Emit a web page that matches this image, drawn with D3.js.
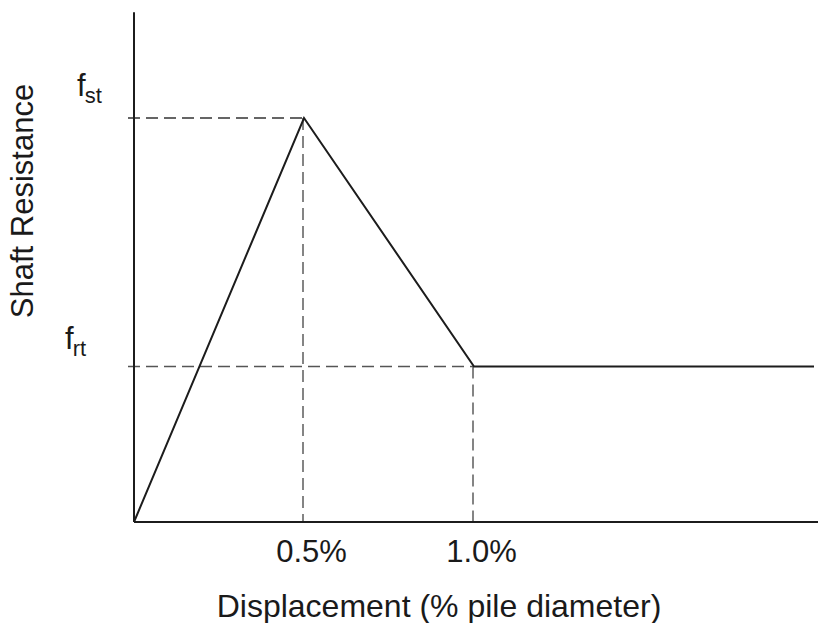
<!DOCTYPE html>
<html>
<head>
<meta charset="utf-8">
<script src="https://cdn.jsdelivr.net/npm/d3@7/dist/d3.min.js"></script>
<style>
  html, body { margin: 0; padding: 0; background: #fff; }
  svg { display: block; }
  text { font-family: Arial, 'Liberation Sans', sans-serif; fill: #1a1a1a; }
</style>
</head>
<body>
<svg id="chart" width="818" height="623"></svg>
<script>
  /* ---- Data (displacement in % pile diameter, resistance normalised to f_st) ---- */
  const displacement = [0, 0.5, 1.0, 2.0];
  const resistance = [0, 1.0, 0.385, 0.385];
  const xTickValues = [0.5, 1.0];
  const xTickLabels = ['0.5%', '1.0%'];
  const levelNames = ['st', 'rt'];
  const levelValues = [1.0, 0.385];
  const levelX = [0.5, 1.0];

  const svg = d3.select('#chart');

  const x = d3.scaleLinear().domain([0, 2.0]).range([134, 814]);
  const y = d3.scaleLinear().domain([0, 1.0]).range([522, 118]);
  const yTop = 1.262;

  const ink = '#1c1c1c';

  // Dashed guide lines: horizontal from axis to point, vertical from point to axis
  levelValues.forEach((v, i) => {
    svg.append('line')
      .attr('x1', x(0) - 6).attr('x2', x(levelX[i]))
      .attr('y1', y(v)).attr('y2', y(v))
      .attr('stroke', i === 0 ? '#333' : '#555')
      .attr('stroke-width', 1.6)
      .attr('stroke-dasharray', '12,6');
    svg.append('line')
      .attr('x1', x(levelX[i]) - 1).attr('x2', x(levelX[i]) - 1)
      .attr('y1', y(v)).attr('y2', y(0))
      .attr('stroke', '#666')
      .attr('stroke-width', 1.6)
      .attr('stroke-dasharray', '12,6');
  });

  // Axes lines
  svg.append('line')
    .attr('x1', x(0)).attr('x2', x(0))
    .attr('y1', y(yTop)).attr('y2', y(0))
    .attr('stroke', ink).attr('stroke-width', 2);
  svg.append('line')
    .attr('x1', x(0)).attr('x2', 818)
    .attr('y1', y(0)).attr('y2', y(0))
    .attr('stroke', ink).attr('stroke-width', 2);

  // Resistance curve
  const pts = displacement.map((d, i) => [d, resistance[i]]);
  svg.append('path')
    .datum(pts)
    .attr('fill', 'none')
    .attr('stroke', ink)
    .attr('stroke-width', 2)
    .attr('stroke-linejoin', 'miter')
    .attr('d', d3.line().x(d => x(d[0])).y(d => y(d[1])));

  // X tick labels
  const xAxis = d3.axisBottom(x)
    .tickValues(xTickValues)
    .tickSize(0)
    .tickPadding(0)
    .tickFormat((d, i) => xTickLabels[i]);
  const gx = svg.append('g').attr('transform', `translate(0,${y(0)})`).call(xAxis);
  gx.select('.domain').remove();
  gx.selectAll('text')
    .attr('font-size', 31)
    .attr('font-family', "Arial, 'Liberation Sans', sans-serif")
    .attr('fill', '#1a1a1a')
    .attr('dy', null)
    .attr('y', 40)
    .attr('x', 7);

  // Level labels f_st, f_rt
  const labelPos = [[77, 96], [65, 349]];
  levelNames.forEach((n, i) => {
    const t = svg.append('text')
      .attr('x', labelPos[i][0])
      .attr('y', labelPos[i][1])
      .attr('font-size', 31);
    t.append('tspan').text('f');
    t.append('tspan').attr('font-size', 22).attr('dy', 7).attr('dx', -1).text(n);
  });

  // Axis titles
  svg.append('text')
    .attr('x', 439)
    .attr('y', 617)
    .attr('text-anchor', 'middle')
    .attr('font-size', 32)
    .text('Displacement (% pile diameter)');

  svg.append('text')
    .attr('transform', 'translate(33,201) rotate(-90)')
    .attr('text-anchor', 'middle')
    .attr('font-size', 31)
    .text('Shaft Resistance');
</script>
</body>
</html>
